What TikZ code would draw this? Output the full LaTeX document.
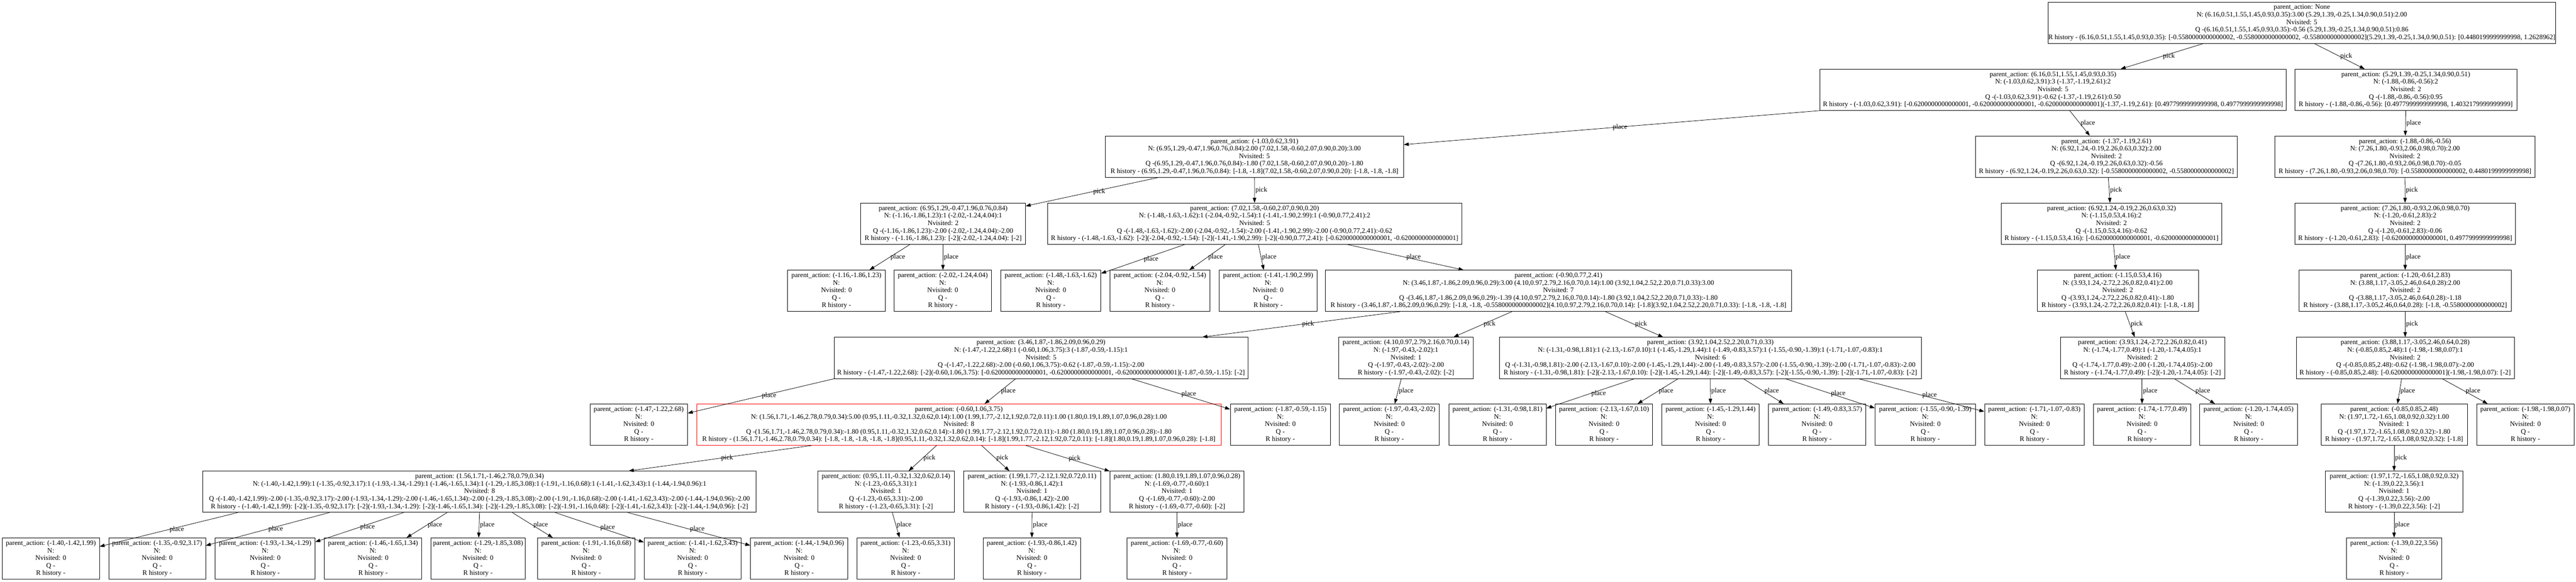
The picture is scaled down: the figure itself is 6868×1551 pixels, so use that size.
\documentclass[tikz,border=0pt]{standalone}
\usepackage{fontspec}
\setmainfont{Liberation Serif}
\usetikzlibrary{arrows.meta,calc}
\tikzset{
 box/.style={draw=black, line width=0.8pt, rectangle, align=center, inner sep=0pt, minimum height=82.5pt, font=\fontsize{13.7pt}{15pt}\selectfont},
 redbox/.style={box, draw=red},
 edge/.style={draw=black, line width=0.8pt, -{Triangle[length=10pt,width=7pt]}},
 lab/.style={midway, anchor=west, inner sep=1.5pt, font=\fontsize{13.7pt}{15pt}\selectfont},
}
\newcommand\mynode[6][box]{\node[#1, minimum width={(#4-#3)*0.75pt}] (#2) at ({(#3+#4)/2},{#5+55.5}) {#6};}
\newcommand\myleaf[5]{\mynode{#1}{#2}{#3}{#4}{parent\_action: #5\\N:\\Nvisited: 0\\Q -\\R history -}}
\newcommand\myedge[4]{\draw[edge] ($(#1.south)+(#2,0)$) -- (#3) node[lab]{#4};}
\begin{document}
\begin{tikzpicture}[x=0.75pt,y=-0.75pt]
\useasboundingbox[fill=white] (0,0) rectangle (6868,1551);
% level 0
\mynode{root}{5524}{6750}{5}{parent\_action: None\\N: (6.16,0.51,1.55,1.45,0.93,0.35):3.00 (5.29,1.39,-0.25,1.34,0.90,0.51):2.00\\Nvisited: 5\\Q -(6.16,0.51,1.55,1.45,0.93,0.35):-0.56 (5.29,1.39,-0.25,1.34,0.90,0.51):0.86\\R history - (6.16,0.51,1.55,1.45,0.93,0.35): [-0.5580000000000002, -0.5580000000000002, -0.5580000000000002](5.29,1.39,-0.25,1.34,0.90,0.51): [0.4480199999999998, 1.2628962]}
% level 1
\mynode{A}{4852}{6095}{184}{parent\_action: (6.16,0.51,1.55,1.45,0.93,0.35)\\N: (-1.03,0.62,3.91):3 (-1.37,-1.19,2.61):2\\Nvisited: 5\\Q -(-1.03,0.62,3.91):-0.62 (-1.37,-1.19,2.61):0.50\\R history - (-1.03,0.62,3.91): [-0.6200000000000001, -0.6200000000000001, -0.6200000000000001](-1.37,-1.19,2.61): [0.4977999999999998, 0.4977999999999998]}
\mynode{B}{6118}{6710}{184}{parent\_action: (5.29,1.39,-0.25,1.34,0.90,0.51)\\N: (-1.88,-0.86,-0.56):2\\Nvisited: 2\\Q -(-1.88,-0.86,-0.56):0.95\\R history - (-1.88,-0.86,-0.56): [0.4977999999999998, 1.4032179999999999]}
% level 2
\mynode{A1}{2947}{3742}{362}{parent\_action: (-1.03,0.62,3.91)\\N: (6.95,1.29,-0.47,1.96,0.76,0.84):2.00 (7.02,1.58,-0.60,2.07,0.90,0.20):3.00\\Nvisited: 5\\Q -(6.95,1.29,-0.47,1.96,0.76,0.84):-1.80 (7.02,1.58,-0.60,2.07,0.90,0.20):-1.80\\R history - (6.95,1.29,-0.47,1.96,0.76,0.84): [-1.8, -1.8](7.02,1.58,-0.60,2.07,0.90,0.20): [-1.8, -1.8, -1.8]}
\mynode{A2}{5267}{5965}{362}{parent\_action: (-1.37,-1.19,2.61)\\N: (6.92,1.24,-0.19,2.26,0.63,0.32):2.00\\Nvisited: 2\\Q -(6.92,1.24,-0.19,2.26,0.63,0.32):-0.56\\R history - (6.92,1.24,-0.19,2.26,0.63,0.32): [-0.5580000000000002, -0.5580000000000002]}
\mynode{B1}{6065}{6759}{362}{parent\_action: (-1.88,-0.86,-0.56)\\N: (7.26,1.80,-0.93,2.06,0.98,0.70):2.00\\Nvisited: 2\\Q -(7.26,1.80,-0.93,2.06,0.98,0.70):-0.05\\R history - (7.26,1.80,-0.93,2.06,0.98,0.70): [-0.5580000000000002, 0.4480199999999998]}
% level 3
\mynode{A1a}{2295}{2734}{541}{parent\_action: (6.95,1.29,-0.47,1.96,0.76,0.84)\\N: (-1.16,-1.86,1.23):1 (-2.02,-1.24,4.04):1\\Nvisited: 2\\Q -(-1.16,-1.86,1.23):-2.00 (-2.02,-1.24,4.04):-2.00\\R history - (-1.16,-1.86,1.23): [-2](-2.02,-1.24,4.04): [-2]}
\mynode{A1b}{2793}{3897}{541}{parent\_action: (7.02,1.58,-0.60,2.07,0.90,0.20)\\N: (-1.48,-1.63,-1.62):1 (-2.04,-0.92,-1.54):1 (-1.41,-1.90,2.99):1 (-0.90,0.77,2.41):2\\Nvisited: 5\\Q -(-1.48,-1.63,-1.62):-2.00 (-2.04,-0.92,-1.54):-2.00 (-1.41,-1.90,2.99):-2.00 (-0.90,0.77,2.41):-0.62\\R history - (-1.48,-1.63,-1.62): [-2](-2.04,-0.92,-1.54): [-2](-1.41,-1.90,2.99): [-2](-0.90,0.77,2.41): [-0.6200000000000001, -0.6200000000000001]}
\mynode{A2a}{5335}{5924}{541}{parent\_action: (6.92,1.24,-0.19,2.26,0.63,0.32)\\N: (-1.15,0.53,4.16):2\\Nvisited: 2\\Q -(-1.15,0.53,4.16):-0.62\\R history - (-1.15,0.53,4.16): [-0.6200000000000001, -0.6200000000000001]}
\mynode{B1a}{6118}{6707}{541}{parent\_action: (7.26,1.80,-0.93,2.06,0.98,0.70)\\N: (-1.20,-0.61,2.83):2\\Nvisited: 2\\Q -(-1.20,-0.61,2.83):-0.06\\R history - (-1.20,-0.61,2.83): [-0.6200000000000001, 0.4977999999999998]}
% level 4
\myleaf{l4a}{2100}{2360}{720}{(-1.16,-1.86,1.23)}
\myleaf{l4b}{2384}{2643}{720}{(-2.02,-1.24,4.04)}
\myleaf{l4c}{2668}{2935}{720}{(-1.48,-1.63,-1.62)}
\myleaf{l4d}{2959}{3226}{720}{(-2.04,-0.92,-1.54)}
\myleaf{l4e}{3251}{3511}{720}{(-1.41,-1.90,2.99)}
\mynode{n4}{3534}{4776}{720}{parent\_action: (-0.90,0.77,2.41)\\N: (3.46,1.87,-1.86,2.09,0.96,0.29):3.00 (4.10,0.97,2.79,2.16,0.70,0.14):1.00 (3.92,1.04,2.52,2.20,0.71,0.33):3.00\\Nvisited: 7\\Q -(3.46,1.87,-1.86,2.09,0.96,0.29):-1.39 (4.10,0.97,2.79,2.16,0.70,0.14):-1.80 (3.92,1.04,2.52,2.20,0.71,0.33):-1.80\\R history - (3.46,1.87,-1.86,2.09,0.96,0.29): [-1.8, -1.8, -0.5580000000000002](4.10,0.97,2.79,2.16,0.70,0.14): [-1.8](3.92,1.04,2.52,2.20,0.71,0.33): [-1.8, -1.8, -1.8]}
\mynode{A2a1}{5431}{5861}{720}{parent\_action: (-1.15,0.53,4.16)\\N: (3.93,1.24,-2.72,2.26,0.82,0.41):2.00\\Nvisited: 2\\Q -(3.93,1.24,-2.72,2.26,0.82,0.41):-1.80\\R history - (3.93,1.24,-2.72,2.26,0.82,0.41): [-1.8, -1.8]}
\mynode{B1a1}{6130}{6695}{720}{parent\_action: (-1.20,-0.61,2.83)\\N: (3.88,1.17,-3.05,2.46,0.64,0.28):2.00\\Nvisited: 2\\Q -(3.88,1.17,-3.05,2.46,0.64,0.28):-1.18\\R history - (3.88,1.17,-3.05,2.46,0.64,0.28): [-1.8, -0.5580000000000002]}
% level 5
\mynode{n5a}{2224}{3327}{899}{parent\_action: (3.46,1.87,-1.86,2.09,0.96,0.29)\\N: (-1.47,-1.22,2.68):1 (-0.60,1.06,3.75):3 (-1.87,-0.59,-1.15):1\\Nvisited: 5\\Q -(-1.47,-1.22,2.68):-2.00 (-0.60,1.06,3.75):-0.62 (-1.87,-0.59,-1.15):-2.00\\R history - (-1.47,-1.22,2.68): [-2](-0.60,1.06,3.75): [-0.6200000000000001, -0.6200000000000001, -0.6200000000000001](-1.87,-0.59,-1.15): [-2]}
\mynode{n5b}{3569}{3928}{899}{parent\_action: (4.10,0.97,2.79,2.16,0.70,0.14)\\N: (-1.97,-0.43,-2.02):1\\Nvisited: 1\\Q -(-1.97,-0.43,-2.02):-2.00\\R history - (-1.97,-0.43,-2.02): [-2]}
\mynode{n5c}{3997}{5123}{899}{parent\_action: (3.92,1.04,2.52,2.20,0.71,0.33)\\N: (-1.31,-0.98,1.81):1 (-2.13,-1.67,0.10):1 (-1.45,-1.29,1.44):1 (-1.49,-0.83,3.57):1 (-1.55,-0.90,-1.39):1 (-1.71,-1.07,-0.83):1\\Nvisited: 6\\Q -(-1.31,-0.98,1.81):-2.00 (-2.13,-1.67,0.10):-2.00 (-1.45,-1.29,1.44):-2.00 (-1.49,-0.83,3.57):-2.00 (-1.55,-0.90,-1.39):-2.00 (-1.71,-1.07,-0.83):-2.00\\R history - (-1.31,-0.98,1.81): [-2](-2.13,-1.67,0.10): [-2](-1.45,-1.29,1.44): [-2](-1.49,-0.83,3.57): [-2](-1.55,-0.90,-1.39): [-2](-1.71,-1.07,-0.83): [-2]}
\mynode{A2a1a}{5493}{5931}{899}{parent\_action: (3.93,1.24,-2.72,2.26,0.82,0.41)\\N: (-1.74,-1.77,0.49):1 (-1.20,-1.74,4.05):1\\Nvisited: 2\\Q -(-1.74,-1.77,0.49):-2.00 (-1.20,-1.74,4.05):-2.00\\R history - (-1.74,-1.77,0.49): [-2](-1.20,-1.74,4.05): [-2]}
\mynode{B1a1a}{6122}{6703}{899}{parent\_action: (3.88,1.17,-3.05,2.46,0.64,0.28)\\N: (-0.85,0.85,2.48):1 (-1.98,-1.98,0.07):1\\Nvisited: 2\\Q -(-0.85,0.85,2.48):-0.62 (-1.98,-1.98,0.07):-2.00\\R history - (-0.85,0.85,2.48): [-0.6200000000000001](-1.98,-1.98,0.07): [-2]}
% level 6
\myleaf{l6a}{1573}{1833}{1077}{(-1.47,-1.22,2.68)}
\mynode[redbox]{red}{1857}{3256}{1077}{parent\_action: (-0.60,1.06,3.75)\\N: (1.56,1.71,-1.46,2.78,0.79,0.34):5.00 (0.95,1.11,-0.32,1.32,0.62,0.14):1.00 (1.99,1.77,-2.12,1.92,0.72,0.11):1.00 (1.80,0.19,1.89,1.07,0.96,0.28):1.00\\Nvisited: 8\\Q -(1.56,1.71,-1.46,2.78,0.79,0.34):-1.80 (0.95,1.11,-0.32,1.32,0.62,0.14):-1.80 (1.99,1.77,-2.12,1.92,0.72,0.11):-1.80 (1.80,0.19,1.89,1.07,0.96,0.28):-1.80\\R history - (1.56,1.71,-1.46,2.78,0.79,0.34): [-1.8, -1.8, -1.8, -1.8, -1.8](0.95,1.11,-0.32,1.32,0.62,0.14): [-1.8](1.99,1.77,-2.12,1.92,0.72,0.11): [-1.8](1.80,0.19,1.89,1.07,0.96,0.28): [-1.8]}
\myleaf{l6b}{3280}{3547}{1077}{(-1.87,-0.59,-1.15)}
\myleaf{l6c}{3571}{3837}{1077}{(-1.97,-0.43,-2.02)}
\myleaf{l6d}{3863}{4122}{1077}{(-1.31,-0.98,1.81)}
\myleaf{l6e}{4147}{4406}{1077}{(-2.13,-1.67,0.10)}
\myleaf{l6f}{4431}{4690}{1077}{(-1.45,-1.29,1.44)}
\myleaf{l6g}{4715}{4974}{1077}{(-1.49,-0.83,3.57)}
\myleaf{l6h}{4999}{5267}{1077}{(-1.55,-0.90,-1.39)}
\myleaf{l6i}{5291}{5557}{1077}{(-1.71,-1.07,-0.83)}
\myleaf{l6j}{5581}{5841}{1077}{(-1.74,-1.77,0.49)}
\myleaf{l6k}{5865}{6125}{1077}{(-1.20,-1.74,4.05)}
\mynode{n6}{6188}{6578}{1077}{parent\_action: (-0.85,0.85,2.48)\\N: (1.97,1.72,-1.65,1.08,0.92,0.32):1.00\\Nvisited: 1\\Q -(1.97,1.72,-1.65,1.08,0.92,0.32):-1.80\\R history - (1.97,1.72,-1.65,1.08,0.92,0.32): [-1.8]}
\myleaf{l6l}{6603}{6863}{1077}{(-1.98,-1.98,0.07)}
% level 7
\mynode{n7a}{541}{2016}{1256}{parent\_action: (1.56,1.71,-1.46,2.78,0.79,0.34)\\N: (-1.40,-1.42,1.99):1 (-1.35,-0.92,3.17):1 (-1.93,-1.34,-1.29):1 (-1.46,-1.65,1.34):1 (-1.29,-1.85,3.08):1 (-1.91,-1.16,0.68):1 (-1.41,-1.62,3.43):1 (-1.44,-1.94,0.96):1\\Nvisited: 8\\Q -(-1.40,-1.42,1.99):-2.00 (-1.35,-0.92,3.17):-2.00 (-1.93,-1.34,-1.29):-2.00 (-1.46,-1.65,1.34):-2.00 (-1.29,-1.85,3.08):-2.00 (-1.91,-1.16,0.68):-2.00 (-1.41,-1.62,3.43):-2.00 (-1.44,-1.94,0.96):-2.00\\R history - (-1.40,-1.42,1.99): [-2](-1.35,-0.92,3.17): [-2](-1.93,-1.34,-1.29): [-2](-1.46,-1.65,1.34): [-2](-1.29,-1.85,3.08): [-2](-1.91,-1.16,0.68): [-2](-1.41,-1.62,3.43): [-2](-1.44,-1.94,0.96): [-2]}
\mynode{n7b}{2180}{2544}{1256}{parent\_action: (0.95,1.11,-0.32,1.32,0.62,0.14)\\N: (-1.23,-0.65,3.31):1\\Nvisited: 1\\Q -(-1.23,-0.65,3.31):-2.00\\R history - (-1.23,-0.65,3.31): [-2]}
\mynode{n7c}{2569}{2934}{1256}{parent\_action: (1.99,1.77,-2.12,1.92,0.72,0.11)\\N: (-1.93,-0.86,1.42):1\\Nvisited: 1\\Q -(-1.93,-0.86,1.42):-2.00\\R history - (-1.93,-0.86,1.42): [-2]}
\mynode{n7d}{2959}{3317}{1256}{parent\_action: (1.80,0.19,1.89,1.07,0.96,0.28)\\N: (-1.69,-0.77,-0.60):1\\Nvisited: 1\\Q -(-1.69,-0.77,-0.60):-2.00\\R history - (-1.69,-0.77,-0.60): [-2]}
\mynode{n7e}{6200}{6566}{1256}{parent\_action: (1.97,1.72,-1.65,1.08,0.92,0.32)\\N: (-1.39,0.22,3.56):1\\Nvisited: 1\\Q -(-1.39,0.22,3.56):-2.00\\R history - (-1.39,0.22,3.56): [-2]}
% level 8
\myleaf{l8a}{6}{265}{1434}{(-1.40,-1.42,1.99)}
\myleaf{l8b}{290}{548}{1434}{(-1.35,-0.92,3.17)}
\myleaf{l8c}{574}{840}{1434}{(-1.93,-1.34,-1.29)}
\myleaf{l8d}{865}{1124}{1434}{(-1.46,-1.65,1.34)}
\myleaf{l8e}{1149}{1400}{1434}{(-1.29,-1.85,3.08)}
\myleaf{l8f}{1433}{1693}{1434}{(-1.91,-1.16,0.68)}
\myleaf{l8g}{1717}{1976}{1434}{(-1.41,-1.62,3.43)}
\myleaf{l8h}{2001}{2260}{1434}{(-1.44,-1.94,0.96)}
\myleaf{l8i}{2285}{2544}{1434}{(-1.23,-0.65,3.31)}
\myleaf{l8j}{2621}{2881}{1434}{(-1.93,-0.86,1.42)}
\myleaf{l8k}{3005}{3271}{1434}{(-1.69,-0.77,-0.60)}
\myleaf{l8l}{6256}{6510}{1434}{(-1.39,0.22,3.56)}
% edges
\myedge{root}{-262}{A}{pick}
\myedge{root}{33}{B}{pick}
\myedge{A}{-621.5}{A1}{place}
\myedge{A}{44.5}{A2}{place}
\myedge{B}{0}{B1}{place}
\myedge{A1}{-254.5}{A1a}{pick}
\myedge{A1}{0}{A1b}{pick}
\myedge{A2}{5}{A2a}{pick}
\myedge{B1}{0}{B1a}{pick}
\myedge{A1a}{-88.5}{l4a}{place}
\myedge{A1a}{0}{l4b}{place}
\myedge{A1b}{-186}{l4c}{place}
\myedge{A1b}{-78}{l4d}{place}
\myedge{A1b}{10}{l4e}{place}
\myedge{A1b}{247}{n4}{place}
\myedge{A2a}{5.5}{A2a1}{place}
\myedge{B1a}{0}{B1a1}{place}
\myedge{n4}{-422}{n5a}{pick}
\myedge{n4}{-124}{n5b}{pick}
\myedge{n4}{125}{n5c}{pick}
\myedge{A2a1}{20}{A2a1a}{pick}
\myedge{B1a1}{0}{B1a1a}{pick}
\myedge{n5a}{-551.5}{l6a}{place}
\myedge{n5a}{-67.5}{red}{place}
\myedge{n5a}{240.5}{l6b}{place}
\myedge{n5b}{-12.5}{l6c}{place}
\myedge{n5c}{-202}{l6d}{place}
\myedge{n5c}{-86}{l6e}{place}
\myedge{n5c}{0}{l6f}{place}
\myedge{n5c}{88}{l6g}{place}
\myedge{n5c}{200}{l6h}{place}
\myedge{n5c}{395}{l6i}{place}
\myedge{A2a1a}{-1}{l6j}{place}
\myedge{A2a1a}{85}{l6k}{place}
\myedge{B1a1a}{-9.5}{n6}{place}
\myedge{B1a1a}{98.5}{l6l}{place}
\myedge{red}{-392.5}{n7a}{pick}
\myedge{red}{-59.5}{n7b}{pick}
\myedge{red}{60.5}{n7c}{pick}
\myedge{red}{178.5}{n7d}{pick}
\myedge{n6}{0}{n7e}{pick}
\myedge{n7a}{-644.5}{l8a}{place}
\myedge{n7a}{-400.5}{l8b}{place}
\myedge{n7a}{-202.5}{l8c}{place}
\myedge{n7a}{-86.5}{l8d}{place}
\myedge{n7a}{0}{l8e}{place}
\myedge{n7a}{87.5}{l8f}{place}
\myedge{n7a}{201.5}{l8g}{place}
\myedge{n7a}{395.5}{l8h}{place}
\myedge{n7b}{17}{l8i}{place}
\myedge{n7c}{0}{l8j}{place}
\myedge{n7d}{0}{l8k}{place}
\myedge{n7e}{0}{l8l}{place}
\end{tikzpicture}
\end{document}
